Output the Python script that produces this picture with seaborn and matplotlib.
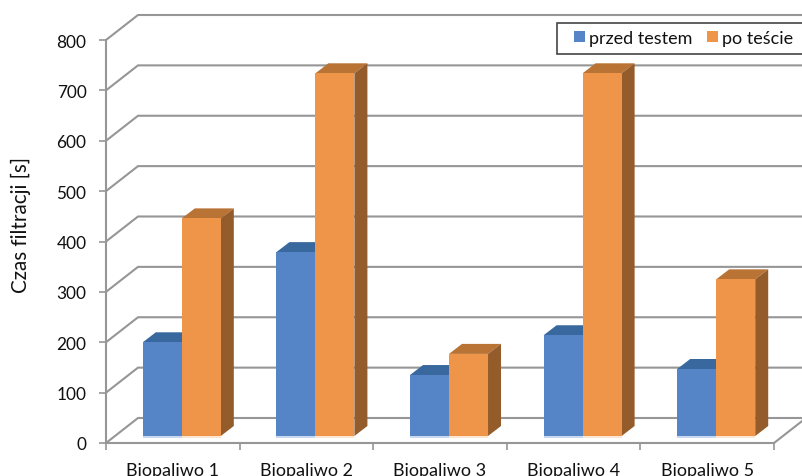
import matplotlib
matplotlib.use("Agg")
import matplotlib.pyplot as plt
from matplotlib.patches import Patch, Polygon, Rectangle
import pandas as pd
import seaborn as sns

# Values
categories = ['Biopaliwo 1', 'Biopaliwo 2', 'Biopaliwo 3', 'Biopaliwo 4', 'Biopaliwo 5']
before_test = [186, 365, 121, 200, 133]
after_test = [432, 720, 163, 720, 311]
series_names = ['przed testem', 'po teście']
y_ticks = [0, 100, 200, 300, 400, 500, 600, 700, 800]

# Colours: front, top, side, pale strip at the foot of the bars
front_colors = ['#5585C6', '#EF9549']
top_colors = ['#38689E', '#B87335']
side_colors = ['#3F6A9E', '#955C2B']
foot_colors = ['#C9DAF0', '#FBE6D3']
grid_color = '#969696'
text_color = '#111111'

df = pd.DataFrame({
    'Biopaliwo': categories * 2,
    'Seria': [series_names[0]] * 5 + [series_names[1]] * 5,
    'Czas': before_test + after_test,
})

sns.set_style('white')
plt.rcParams['font.family'] = ['Lato', 'DejaVu Sans']

W, H = 803, 477
fig = plt.figure(figsize=(W / 100, H / 100), dpi=100)
ax = fig.add_axes([106 / W, 1 - 444 / H, (774 - 106) / W, (444 - 41) / H])

sns.barplot(data=df, x='Biopaliwo', y='Czas', hue='Seria', palette=front_colors,
            width=0.584, gap=0, saturation=1, legend=False, ax=ax, zorder=3,
            linewidth=0, edgecolor='none')
ax.set_xlim(-0.5, 4.5)
ax.set_ylim(0, 800)

# Pixel sizes converted to data units
px_x = 5 / (774 - 106)
px_y = 800 / (444 - 41)
wall_dx, wall_dy = 32 * px_x, 25 * px_y
bar_dx, bar_dy = 13 * px_x, 10 * px_y
lift_x, lift_y = 9 * px_x, 7 * px_y

# Back wall grid with the diagonals on the left wall
for v in y_ticks:
    ax.plot([-0.5, -0.5 + wall_dx, 4.5 + wall_dx + 0.1],
            [v, v + wall_dy, v + wall_dy],
            color=grid_color, lw=1.5, clip_on=False, zorder=1)
ax.plot([4.5, 4.5 + wall_dx], [0, wall_dy], color=grid_color, lw=1.5,
        clip_on=False, zorder=1)

# Shift the bars onto the floor and add their top and side faces
n = len(categories)
for i, bar in enumerate(ax.patches[:2 * n]):
    s = i // n
    bar.set_x(bar.get_x() + lift_x)
    bar.set_y(bar.get_y() + lift_y)
    x0, x1 = bar.get_x(), bar.get_x() + bar.get_width()
    y0, y1 = bar.get_y(), bar.get_y() + bar.get_height()
    top = Polygon([(x0, y1), (x1, y1), (x1 + bar_dx, y1 + bar_dy), (x0 + bar_dx, y1 + bar_dy)],
                  facecolor=top_colors[s], edgecolor='none', zorder=2)
    side = Polygon([(x1, y0), (x1 + bar_dx, y0 + bar_dy), (x1 + bar_dx, y1 + bar_dy), (x1, y1)],
                   facecolor=side_colors[s], edgecolor='none', zorder=2)
    foot = Rectangle((x0, y0 - 2 * px_y), x1 - x0, 2 * px_y,
                     facecolor=foot_colors[s], edgecolor='none', zorder=3)
    ax.add_patch(top)
    ax.add_patch(side)
    ax.add_patch(foot)

# Axes
for name in ['top', 'right']:
    ax.spines[name].set_visible(False)
for name in ['left', 'bottom']:
    ax.spines[name].set_color(grid_color)
    ax.spines[name].set_linewidth(1.5)
    ax.spines[name].set_zorder(4)
ax.patch.set_alpha(0)

ax.set_yticks(y_ticks)
ax.set_xticks([i - 0.5 for i in range(n + 1)], minor=True)
ax.tick_params(axis='x', which='major', length=0, pad=14, labelsize=13, labelcolor=text_color)
ax.tick_params(axis='x', which='minor', length=5, width=1.2, color=grid_color, bottom=True)
ax.tick_params(axis='y', length=5, width=1.2, color=grid_color, left=True, pad=9,
               labelsize=12.4, labelcolor=text_color)
ax.set_xlabel('')
ax.set_ylabel('')
fig.text(21 / W, 1 - 225 / H, 'Czas filtracji [s]', rotation=90, ha='center', va='center',
         fontsize=14.9, color=text_color)

# Legend frame runs off the right edge, so it is drawn apart from the entries
fig.add_artist(Rectangle((557 / W, 1 - 55 / H), 260 / W, 31 / H, transform=fig.transFigure,
                         facecolor='white', edgecolor='#444444', linewidth=1.2))
handles = [Patch(facecolor=c, edgecolor='none', label=l) for c, l in zip(front_colors, series_names)]
leg = fig.legend(handles=handles, ncol=2, loc='center left', bbox_to_anchor=(574 / W, 1 - 39 / H),
                 borderaxespad=0, frameon=False, fontsize=13, handlelength=0.61,
                 handleheight=0.61, handletextpad=0.22, columnspacing=0.83, borderpad=0,
                 labelcolor=text_color)
leg.set_zorder(5)

fig.savefig('out.png', dpi=100)
